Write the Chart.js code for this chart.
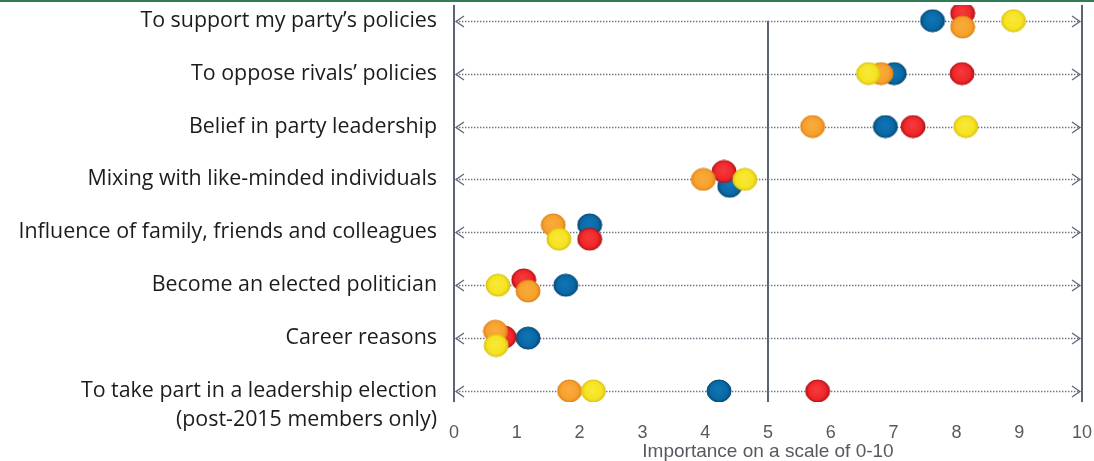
<!DOCTYPE html>
<html><head><meta charset="utf-8">
<script src="https://cdn.jsdelivr.net/npm/chart.js@4/dist/chart.umd.min.js"></script>
<style>html,body{margin:0;padding:0;background:#fff;}#wrap{width:1094px;height:461px;}</style>
</head><body><div id="wrap"><canvas id="c" width="1094" height="461"></canvas></div>
<script>
// ---- data ----
const categories = [
  "To support my party\u2019s policies",
  "To oppose rivals\u2019 policies",
  "Belief in party leadership",
  "Mixing with like-minded individuals",
  "Influence of family, friends and colleagues",
  "Become an elected politician",
  "Career reasons",
  "To take part in a leadership election"
];
const categoryNotes = ["", "", "", "", "", "", "", "(post-2015 members only)"];
const xTickValues = [0, 1, 2, 3, 4, 5, 6, 7, 8, 9, 10];
const axisTitle = "Importance on a scale of 0-10";

const blueValues   = [7.62, 7.01, 6.87, 4.39, 2.16, 1.78, 1.18, 4.22];
const redValues    = [8.10, 8.09, 7.31, 4.30, 2.16, 1.11, 0.80, 5.79];
const orangeValues = [8.10, 6.80, 5.71, 3.97, 1.58, 1.18, 0.66, 1.84];
const yellowValues = [8.91, 6.60, 8.15, 4.63, 1.67, 0.70, 0.67, 2.22];

// vertical nudges (in rows) used in the original to separate overlapping dots
const blueNudge   = [0, 0, 0, 0.13, -0.14, 0, 0, 0];
const redNudge    = [-0.14, 0, 0, -0.15, 0.13, -0.10, -0.02, 0];
const orangeNudge = [0.12, 0, 0, 0, -0.14, 0.11, -0.13, 0];
const yellowNudge = [0, 0, 0, 0, 0.13, 0, 0.14, 0];

// ---- styling helpers ----
function dot(fill, light, edge) {
  const c = document.createElement('canvas');
  c.width = 26; c.height = 24;
  const g = c.getContext('2d');
  g.beginPath();
  g.ellipse(13, 12, 12, 11, 0, 0, Math.PI * 2);
  const grad = g.createRadialGradient(12, 10, 1, 13, 12, 12);
  grad.addColorStop(0, light);
  grad.addColorStop(0.7, fill);
  grad.addColorStop(1, edge);
  g.fillStyle = grad;
  g.fill();
  g.lineWidth = 1;
  g.strokeStyle = edge;
  g.stroke();
  return c;
}
const styles = {
  blue:   dot('#0a69a6', '#0f74b5', '#044a78'),
  red:    dot('#f02629', '#f53a3c', '#b3141a'),
  orange: dot('#f7a12d', '#f9ab3c', '#e1861a'),
  yellow: dot('#f6e320', '#f8e938', '#dcc515')
};

function series(label, values, nudges, img) {
  return {
    label,
    data: values.map((v, i) => ({ x: v, y: i + nudges[i] })),
    pointStyle: img,
    pointRadius: 12,
    showLine: false
  };
}

const lineColor = '#5b6271';

const decor = {
  id: 'decor',
  beforeDatasetsDraw(chart) {
    const { ctx, chartArea, scales: { x, y } } = chart;
    ctx.save();
    // green rule along the top
    ctx.fillStyle = '#2f7b55';
    ctx.fillRect(0, 0, chart.width, 2);

    const x0 = x.getPixelForValue(xTickValues[0]);
    const x1 = x.getPixelForValue(xTickValues[xTickValues.length - 1]);
    const xm = x.getPixelForValue(5);

    // vertical reference lines
    ctx.strokeStyle = lineColor;
    ctx.lineWidth = 2;
    ctx.beginPath();
    ctx.moveTo(x0, chartArea.top); ctx.lineTo(x0, chartArea.bottom);
    ctx.moveTo(x1, chartArea.top); ctx.lineTo(x1, chartArea.bottom);
    ctx.moveTo(xm, y.getPixelForValue(0)); ctx.lineTo(xm, chartArea.bottom);
    ctx.stroke();

    // dotted row lines with arrowheads
    categories.forEach((c, i) => {
      const py = Math.round(y.getPixelForValue(i)) + 0.5;
      ctx.strokeStyle = '#6b7282';
      ctx.lineWidth = 1.4;
      ctx.setLineDash([1.4, 1.6]);
      ctx.beginPath();
      ctx.moveTo(x0 + 2, py); ctx.lineTo(x1 - 2, py);
      ctx.stroke();
      ctx.setLineDash([]);
      ctx.strokeStyle = '#5f6675';
      ctx.lineWidth = 1.3;
      ctx.beginPath();
      ctx.moveTo(x0 + 10, py - 5.5); ctx.lineTo(x0 + 2, py); ctx.lineTo(x0 + 10, py + 5.5);
      ctx.moveTo(x1 - 10, py - 5.5); ctx.lineTo(x1 - 2, py); ctx.lineTo(x1 - 10, py + 5.5);
      ctx.stroke();
    });
    ctx.restore();
  }
};

new Chart(document.getElementById('c'), {
  type: 'scatter',
  data: {
    datasets: [
      series('Yellow', yellowValues, yellowNudge, styles.yellow),
      series('Orange', orangeValues, orangeNudge, styles.orange),
      series('Red', redValues, redNudge, styles.red),
      series('Blue', blueValues, blueNudge, styles.blue)
    ]
  },
  options: {
    responsive: false,
    animation: false,
    events: [],
    layout: { autoPadding: false, padding: { top: 5, right: 12, left: 0, bottom: 0 } },
    plugins: { legend: { display: false }, tooltip: { enabled: false } },
    scales: {
      x: {
        type: 'linear', position: 'bottom', min: 0, max: 10,
        grid: { display: false, drawTicks: false },
        border: { display: false },
        afterBuildTicks: s => { s.ticks = xTickValues.map(v => ({ value: v })); },
        ticks: {
          autoSkip: false, maxRotation: 0, padding: 20,
          color: '#585860', font: { family: 'Liberation Sans', size: 18 }
        },
        title: {
          display: true, text: axisTitle, color: '#585860',
          font: { family: 'Liberation Sans', size: 19, lineHeight: 1 },
          padding: { top: 0, bottom: 0 }
        },
        afterFit: s => { s.height = 59; s.paddingLeft = 0; s.paddingRight = 0; }
      },
      y: {
        type: 'linear', reverse: true, min: -0.297, max: 7.208,
        grid: { display: false, drawTicks: false },
        border: { display: false },
        afterBuildTicks: s => {
          const t = categories.map((c, i) => ({ value: i, text: c }));
          categoryNotes.forEach((n, i) => { if (n) t.push({ value: i + 0.54, text: n }); });
          s.ticks = t;
        },
        ticks: {
          autoSkip: false, padding: 17,
          color: '#1c1c1c', font: { family: 'Open Sans', size: 21.4 },
          callback: (v, i, ticks) => ticks[i].text
        },
        afterFit: s => { s.width = 454; s.paddingTop = 0; s.paddingBottom = 0; }
      }
    }
  },
  plugins: [decor]
});
</script>
</body></html>
